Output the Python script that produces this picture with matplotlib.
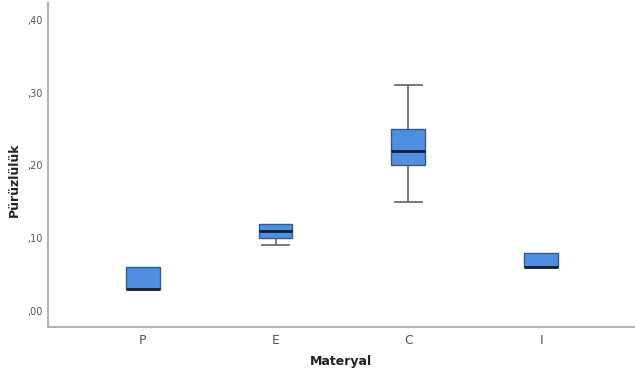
import matplotlib
matplotlib.use("Agg")
from matplotlib import pyplot as plt
from matplotlib.ticker import FuncFormatter

categories = ["P", "E", "C", "I"]
whislo = [0.03, 0.09, 0.15, 0.06]
q1 = [0.03, 0.10, 0.20, 0.06]
med = [0.03, 0.11, 0.22, 0.06]
q3 = [0.06, 0.12, 0.25, 0.08]
whishi = [0.06, 0.12, 0.31, 0.08]
y_ticks = [0.0, 0.1, 0.2, 0.3, 0.4]

stats = []
for i, name in enumerate(categories):
    stats.append({"label": name, "whislo": whislo[i], "q1": q1[i], "med": med[i],
                  "q3": q3[i], "whishi": whishi[i], "fliers": []})

fig = plt.figure(figsize=(6.35, 3.76), dpi=100)
ax = fig.add_axes([48 / 635, 49 / 376, 586 / 635, 324 / 376])

parts = ax.bxp(stats, positions=range(len(categories)), widths=0.255, patch_artist=True,
               showfliers=False,
               boxprops=dict(facecolor="#4f8fdf", edgecolor="#3a5a80", linewidth=1.0),
               medianprops=dict(color="#0c1d3d", linewidth=2.0),
               whiskerprops=dict(color="#6e6e6e", linewidth=1.3),
               capprops=dict(color="#6e6e6e", linewidth=1.3),
               capwidths=0.2)

# hide caps for whiskers with zero length (they sit on the box edge)
for i in range(len(categories)):
    if whislo[i] == q1[i]:
        parts["caps"][2 * i].set_visible(False)
        parts["whiskers"][2 * i].set_visible(False)
    if whishi[i] == q3[i]:
        parts["caps"][2 * i + 1].set_visible(False)
        parts["whiskers"][2 * i + 1].set_visible(False)
for box in parts["boxes"]:
    box.set_zorder(3)
for m in parts["medians"]:
    m.set_zorder(4)

ax.set_xlim(-0.714, 3.7)
ax.set_ylim(-0.022, 0.423)
ax.set_yticks(y_ticks)
ax.yaxis.set_major_formatter(FuncFormatter(lambda v, p: f"{v:.2f}".lstrip("0").replace(".", ",")))

for side in ["top", "right"]:
    ax.spines[side].set_visible(False)
for side in ["left", "bottom"]:
    ax.spines[side].set_color("#b4b4b4")
    ax.spines[side].set_linewidth(1.5)

ax.tick_params(axis="both", length=0, colors="#555555")
ax.tick_params(axis="y", labelsize=7, pad=4)
ax.tick_params(axis="x", labelsize=9, pad=5)

ax.set_xlabel("Materyal", fontsize=9, fontweight="bold", color="#222222", labelpad=6)
ax.set_ylabel("Pürüzlülük", fontsize=9, fontweight="bold", color="#222222")
ax.yaxis.set_label_coords(-0.046, 0.455)

fig.savefig("out.png", dpi=100)
